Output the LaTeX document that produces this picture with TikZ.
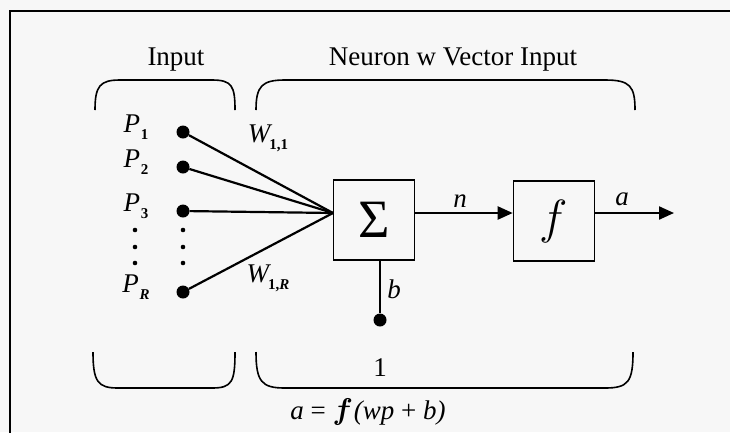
\RequirePackage{fix-cm}
\documentclass[tikz,border=0pt]{standalone}
\usepackage{fontspec}
\setmainfont{Liberation Serif}
\usetikzlibrary{arrows.meta}
\newcommand{\subb}[1]{\raisebox{-7pt}{\fontsize{15}{16}\selectfont\upshape\bfseries #1}}
\begin{document}
\begin{tikzpicture}[x=1pt,y=-1pt,
  wire/.style={line width=2.2pt},
  dot/.style={circle,fill=black,inner sep=0pt,minimum size=13pt},
  blk/.style={draw,line width=1.6pt,minimum width=81pt,minimum height=80pt,inner sep=0pt},
  brk/.style={line width=1.6pt},
  lbl/.style={font=\fontsize{27}{30}\selectfont},
  ital/.style={font=\fontsize{27}{30}\selectfont\itshape},
  arr/.style={wire,-{Triangle[length=15pt,width=13pt]}}]
\useasboundingbox (0,0) rectangle (730,432);
\clip (0,0) rectangle (730,432);
\fill[gray!6] (0,0) rectangle (730,432);
\draw[line width=2pt] (10,11) rectangle (745,450);
% titles
\node[lbl] (tin) at (176,60) {Input};
\node[lbl] (tneu) at (453,60) {Neuron w Vector Input};
% top brackets
\draw[brk] (95,110) .. controls (95,86) and (100,80) .. (120,80) -- (212,80) .. controls (232,80) and (235,86) .. (235,110);
\draw[brk] (256,110) .. controls (256,86) and (262,80) .. (285,80) -- (605,80) .. controls (630,80) and (635,86) .. (635,110);
% bottom brackets
\draw[brk] (93,352) .. controls (93,382) and (98,388) .. (118,388) -- (212,388) .. controls (232,388) and (235,382) .. (235,352);
\draw[brk] (256,352) .. controls (256,382) and (262,388) .. (285,388) -- (605,388) .. controls (628,388) and (633,382) .. (633,352);
% inputs
\node[dot] (p1) at (183,132) {};
\node[dot] (p2) at (183,167) {};
\node[dot] (p3) at (183,211) {};
\node[dot] (pr) at (183,292) {};
\node[ital] at (136,127) {P\kern1pt\subb{1}};
\node[ital] at (136,162) {P\kern1pt\subb{2}};
\node[ital] at (136,206) {P\kern1pt\subb{3}};
\node[ital] at (136,287) {P\kern1pt\subb{\itshape R}};
\foreach \yy in {230,247,263} {
  \fill (135,\yy) circle (2.3pt);
  \fill (183,\yy) circle (2.3pt);
}
% sum box
\node[blk] (sum) at (374,220) {\fontsize{54}{54}\selectfont Σ};
\coordinate (conv) at (333,213);
\draw[wire] (p1) -- (conv);
\draw[wire] (p2) -- (conv);
\draw[wire] (p3) -- (conv);
\draw[wire] (pr) -- (conv);
\node[ital] at (268,138) {W\kern-1pt\subb{1,1}};
\node[ital] at (268,278) {W\kern-1pt\subb{1,\itshape R}};
% f box
\node[blk] (fbox) at (554,221) {\fontsize{48}{48}\selectfont$f$};
\draw[arr] (sum.east |- conv) -- (fbox.west |- conv);
\node[ital] at (460,201) {n};
\coordinate (out) at (674,213);
\draw[arr] (fbox.east |- conv) -- (out);
\node[ital] at (622,199) {a};
% bias
\node[dot] (one) at (380,320) {};
\draw[wire] (sum.south -| one) -- (one);
\node[ital] at (394,289) {b};
\node[lbl] at (380,368) {1};
% formula
\node[ital] at (368,412) {a {\upshape =} {\fontsize{30}{30}\selectfont\boldmath$f$}\kern1pt(wp {\upshape +} b)};
\end{tikzpicture}
\end{document}
